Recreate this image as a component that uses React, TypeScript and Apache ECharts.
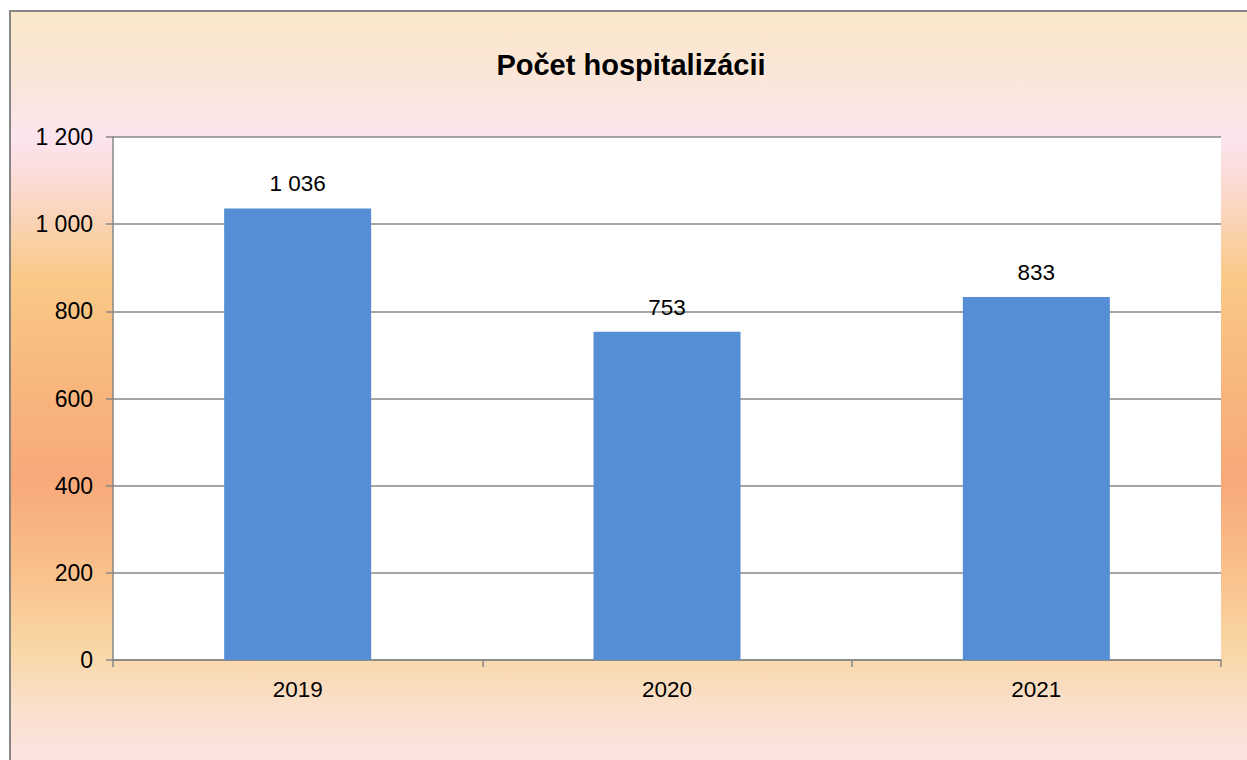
import React, { useEffect, useRef } from "react";
import * as echarts from "echarts";

const title = "Počet hospitalizácii";
const categories = ["2019", "2020", "2021"];
const values = [1036, 753, 833];
const yMax = 1200;
const yInterval = 200;

const fmt = (n: number) => String(n).replace(/\B(?=(\d{3})+(?!\d))/g, " ");

export default function App() {
  const ref = useRef<HTMLDivElement>(null);
  useEffect(() => {
    if (!ref.current) return;
    const chart = echarts.init(ref.current, null, { renderer: "svg" });
    const font = "'Liberation Sans', Arial, sans-serif";
    const bgH = 760;
    const off = (y: number) => (y - 11) / bgH;
    chart.setOption({
      animation: false,
      textStyle: { fontFamily: font },
      graphic: [
        {
          type: "rect",
          z: -10,
          silent: true,
          shape: { x: 10, y: 11, width: 1260, height: bgH },
          style: {
            fill: new echarts.graphic.LinearGradient(0, 0, 0, 1, [
              { offset: 0, color: "#FAE8C8" },
              { offset: off(80), color: "#FBE6DA" },
              { offset: off(140), color: "#FCE4EE" },
              { offset: off(195), color: "#FBD8CA" },
              { offset: off(280), color: "#F9C986" },
              { offset: off(400), color: "#F8B47C" },
              { offset: off(480), color: "#F8A97A" },
              { offset: off(560), color: "#F9BD88" },
              { offset: off(645), color: "#F9D6A4" },
              { offset: off(700), color: "#FADFC8" },
              { offset: 1, color: "#FCE4E6" },
            ]),
            stroke: "#878787",
            lineWidth: 2,
          },
        },
        {
          type: "text",
          z: 10,
          x: 631,
          y: 65,
          style: {
            text: title,
            font: `bold 29px ${font}`,
            fill: "#000",
            textAlign: "center",
            textVerticalAlign: "middle",
          },
        },
      ],
      grid: {
        left: 113,
        right: 26,
        top: 137,
        bottom: 100,
        show: true,
        backgroundColor: "#ffffff",
        borderWidth: 0,
      },
      xAxis: {
        type: "category",
        data: categories,
        axisLine: { lineStyle: { color: "#878787", width: 1.5 } },
        axisTick: { show: true, length: 7, lineStyle: { color: "#878787", width: 1.5 } },
        axisLabel: { color: "#000", fontSize: 22.5, margin: 18, fontFamily: font },
        splitLine: { show: false },
      },
      yAxis: {
        type: "value",
        min: 0,
        max: yMax,
        interval: yInterval,
        axisLine: { show: true, lineStyle: { color: "#878787", width: 1.5 } },
        axisTick: { show: true, length: 7, lineStyle: { color: "#878787", width: 1.5 } },
        axisLabel: {
          color: "#000",
          fontSize: 23,
          margin: 20,
          fontFamily: font,
          formatter: (v: number) => fmt(v),
        },
        splitLine: { show: true, lineStyle: { color: "#878787", width: 1.5 } },
      },
      series: [
        {
          type: "bar",
          data: values,
          barWidth: 147,
          itemStyle: { color: "#558ED5" },
          label: {
            show: true,
            position: "top",
            distance: 13,
            color: "#000",
            fontSize: 22.5,
            fontFamily: font,
            formatter: (p: any) => fmt(p.value),
          },
        },
      ],
    });
    return () => chart.dispose();
  }, []);
  return (
    <div
      ref={ref}
      style={{ position: "absolute", left: 0, top: 0, width: 1247, height: 760, background: "#fff" }}
    />
  );
}
